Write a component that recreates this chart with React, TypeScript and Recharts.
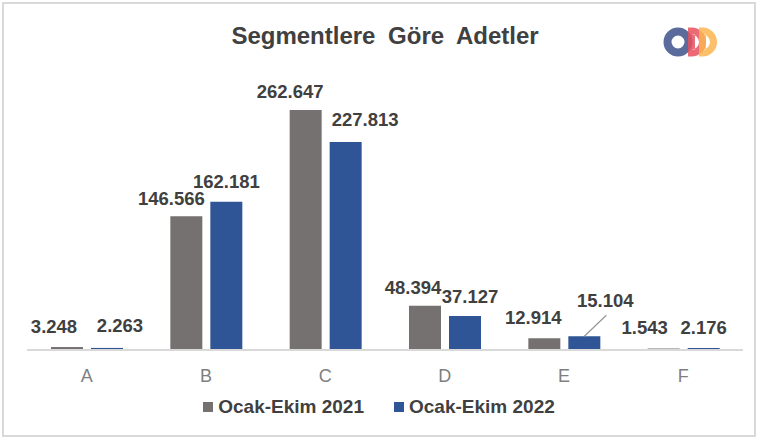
import React from "react";
import { BarChart, Bar, XAxis, YAxis, Legend, LabelList, Customized } from "recharts";

const categories = ["A", "B", "C", "D", "E", "F"];
const values2021 = [3248, 146566, 262647, 48394, 12914, 1543];
const values2022 = [2263, 162181, 227813, 37127, 15104, 2176];
const seriesNames = ["Ocak-Ekim 2021", "Ocak-Ekim 2022"];
const chartTitle = "Segmentlere Göre Adetler";

// label placement tweaks (styling, not data)
const DX_2021 = [-13, -15, -15.5, -12, -11, -19];
const DY_2021 = [-21, -18, -19, -18, -21, -21];
const DX_2022 = [13, 0, 19.5, 5, 21, 0];
const DY_2022 = [-22, -20, -22, -20, -36, -21];
const LEADER_2022 = 4;

const data = categories.map((c, i) => ({ name: c, y2021: values2021[i], y2022: values2022[i] }));

const COLOR_2021 = "#767171";
const COLOR_2022 = "#2F5597";
const FONT = "'Liberation Sans', Arial, sans-serif";

const fmt = (v: number) => String(v).replace(/\B(?=(\d{3})+(?!\d))/g, ".");

const makeLabel = (vals: number[], dxs: number[], dys: number[], leader: number) => (props: any) => {
  const { x, y, width, value } = props;
  let idx = typeof props.index === "number" ? props.index : vals.indexOf(Number(value));
  if (idx < 0) idx = vals.indexOf(Number(value));
  const cx = Number(x) + Number(width) / 2;
  const top = Number(y);
  const lx = cx + (dxs[idx] ?? 0);
  const ly = top + (dys[idx] ?? -20);
  return (
    <g>
      {idx === leader && (
        <line x1={cx + 22} y1={top - 21} x2={cx} y2={top} stroke="#969696" strokeWidth={1.2} />
      )}
      <text x={lx} y={ly} textAnchor="middle" dominantBaseline="central" fontFamily={FONT} fontWeight="bold" fontSize={18.5} fill="#404040">
        {fmt(Number(value))}
      </text>
    </g>
  );
};

const dPath = (x0: number, y0: number, w: number, h: number, t: number) => {
  const r = h / 2;
  const s = x0 + w - r;
  const ri = r - t;
  return `M${x0},${y0} L${s},${y0} A${r},${r} 0 0 1 ${s},${y0 + h} L${x0},${y0 + h} Z ` +
    `M${x0 + t},${y0 + t} L${s},${y0 + t} A${ri},${ri} 0 0 1 ${s},${y0 + h - t} L${x0 + t},${y0 + h - t} Z`;
};

const Decor = () => (
  <g>
    <rect x={3} y={3} width={752} height={433} fill="none" stroke="#d9d9d9" strokeWidth={2} />
    <text x={385} y={44} textAnchor="middle" fontFamily={FONT} fontWeight="bold" fontSize={24} wordSpacing={6} fill="#404040">
      {chartTitle}
    </text>
    <g>
      <circle cx={678} cy={42} r={10.5} fill="none" stroke="#5B6B9B" strokeWidth={8} />
      <path d={dPath(688, 27.5, 18, 29, 7)} fill="#E8505E" fillRule="evenodd" opacity={0.85} />
      <path d={dPath(699, 27.5, 18, 29, 7)} fill="#FBB450" fillRule="evenodd" opacity={0.85} />
    </g>
  </g>
);

const LegendContent = () => (
  <div style={{ display: "flex", justifyContent: "center", alignItems: "center", fontFamily: FONT, fontSize: 19, color: "#404040", fontWeight: "bold" }}>
    {seriesNames.map((n, i) => (
      <div key={n} style={{ display: "flex", alignItems: "center", marginRight: i === 0 ? 30 : 0 }}>
        <span style={{ display: "inline-block", width: 10, height: 10, background: i === 0 ? COLOR_2021 : COLOR_2022, marginRight: 5 }} />
        <span>{n}</span>
      </div>
    ))}
  </div>
);

export default function App() {
  return (
    <div style={{ position: "absolute", left: 0, top: 0, width: 758, height: 439, background: "#fff" }}>
      <BarChart width={758} height={439} data={data} margin={{ top: 76, right: 15, bottom: 59, left: 27 }} barGap={8} barSize={32}>
        <Customized component={Decor} />
        <XAxis
          dataKey="name"
          axisLine={{ stroke: "#d9d9d9", strokeWidth: 2 }}
          tickLine={false}
          tickSize={0}
          tickMargin={19}
          height={30}
          tick={{ fill: "#7f7f7f", fontSize: 18, fontFamily: FONT }}
        />
        <YAxis hide domain={[0, 300000]} />
        <Legend verticalAlign="middle" align="center" wrapperStyle={{ top: 396, left: 0, width: 758 }} content={<LegendContent />} />
        <Bar dataKey="y2021" name={seriesNames[0]} fill={COLOR_2021} isAnimationActive={false}>
          <LabelList dataKey="y2021" content={makeLabel(values2021, DX_2021, DY_2021, -1)} />
        </Bar>
        <Bar dataKey="y2022" name={seriesNames[1]} fill={COLOR_2022} isAnimationActive={false}>
          <LabelList dataKey="y2022" content={makeLabel(values2022, DX_2022, DY_2022, LEADER_2022)} />
        </Bar>
      </BarChart>
    </div>
  );
}
